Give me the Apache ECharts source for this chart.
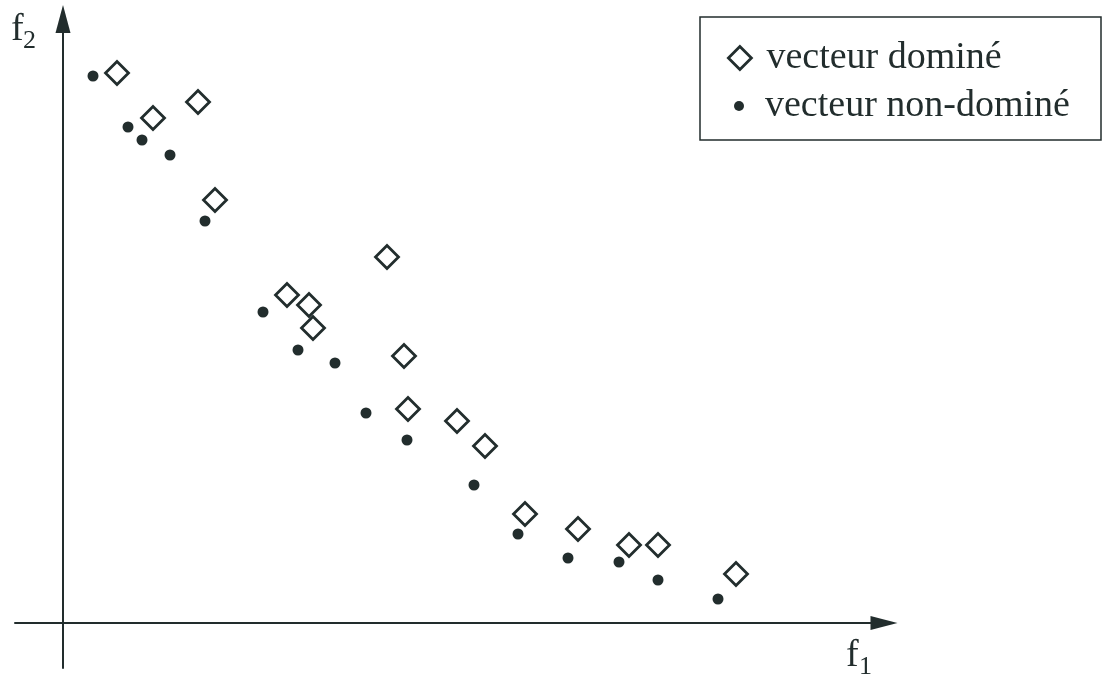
<!DOCTYPE html>
<html>
<head>
<meta charset="utf-8">
<script src="https://cdn.jsdelivr.net/npm/echarts@6/dist/echarts.min.js"></script>
<style>html,body{margin:0;padding:0;background:#fff}#c{width:1108px;height:674px}</style>
</head>
<body>
<div id="c"></div>
<script>
// f1, f2 values (arbitrary units)
const dominatedF1 = [54, 90, 135, 152, 224, 246, 250, 324, 341, 345, 394, 422, 462, 515, 566, 595, 673];
const dominatedF2 = [550, 505, 521, 423, 328, 318, 295, 366, 267, 214, 202, 177, 109, 94, 78, 78, 49];
const nonDominatedF1 = [30, 65, 79, 107, 142, 200, 235, 272, 303, 344, 411, 455, 505, 556, 595, 655];
const nonDominatedF2 = [547, 496, 483, 468, 402, 311, 273, 260, 210, 183, 138, 89, 65, 61, 43, 24];
const seriesNames = ['vecteur dominé', 'vecteur non-dominé'];
const axisNames = ['f', '1', 'f', '2'];

const INK = '#222d2d';
const SERIF = '"Liberation Serif", "DejaVu Serif", serif';

function pairs(xs, ys) { return xs.map((x, i) => [x, ys[i]]); }

const chart = echarts.init(document.getElementById('c'), null, { renderer: 'canvas' });
chart.setOption({
  backgroundColor: '#ffffff',
  animation: false,
  grid: { left: 15, right: 224, top: 19, bottom: 6, containLabel: false },
  xAxis: {
    type: 'value', min: -48, max: 821,
    axisLine: { onZero: true, show: true, lineStyle: { color: INK, width: 2 },
      symbol: ['none', 'triangle'], symbolSize: [14, 27] },
    axisTick: { show: false }, axisLabel: { show: false }, splitLine: { show: false }
  },
  yAxis: {
    type: 'value', min: -45, max: 604,
    axisLine: { onZero: true, show: true, lineStyle: { color: INK, width: 2 },
      symbol: ['none', 'triangle'], symbolSize: [15, 28] },
    axisTick: { show: false }, axisLabel: { show: false }, splitLine: { show: false }
  },
  legend: [
    {
      orient: 'vertical', left: 727, top: 37, padding: 0,
      itemWidth: 23, itemHeight: 23,
      data: [{ name: seriesNames[0], icon: 'diamond',
        itemStyle: { color: 'rgba(0,0,0,0)', borderColor: INK, borderWidth: 2.8, opacity: 1 } }],
      textStyle: { fontFamily: SERIF, fontSize: 38, color: INK, lineHeight: 42, padding: [0, 0, 0, 10] }
    },
    {
      orient: 'vertical', left: 734, top: 85, padding: 0,
      itemWidth: 10, itemHeight: 10,
      data: [{ name: seriesNames[1], icon: 'circle', itemStyle: { color: INK, borderWidth: 0, opacity: 1 } }],
      textStyle: { fontFamily: SERIF, fontSize: 38, color: INK, lineHeight: 42, padding: [0, 0, 0, 16] }
    }
  ],
  graphic: [
    { type: 'rect', shape: { x: 700, y: 17, width: 401, height: 123 },
      style: { fill: 'none', stroke: INK, lineWidth: 1.5 }, silent: true },
    { type: 'text', x: 11, y: 30, style: { text: axisNames[2], font: '38px ' + SERIF, fill: INK, verticalAlign: 'middle' } },
    { type: 'text', x: 23, y: 41, style: { text: axisNames[3], font: '26px ' + SERIF, fill: INK, verticalAlign: 'middle' } },
    { type: 'text', x: 846, y: 656, style: { text: axisNames[0], font: '38px ' + SERIF, fill: INK, verticalAlign: 'middle' } },
    { type: 'text', x: 859, y: 667, style: { text: axisNames[1], font: '26px ' + SERIF, fill: INK, verticalAlign: 'middle' } }
  ],
  series: [
    {
      name: seriesNames[0], type: 'scatter', symbol: 'diamond', symbolSize: 23,
      data: pairs(dominatedF1, dominatedF2),
      itemStyle: { color: 'rgba(0,0,0,0)', borderColor: INK, borderWidth: 2.8, opacity: 1 },
      z: 3
    },
    {
      name: seriesNames[1], type: 'scatter', symbol: 'circle', symbolSize: 11,
      data: pairs(nonDominatedF1, nonDominatedF2),
      itemStyle: { color: INK, borderWidth: 0, opacity: 1 },
      z: 2
    }
  ]
});
</script>
</body>
</html>
